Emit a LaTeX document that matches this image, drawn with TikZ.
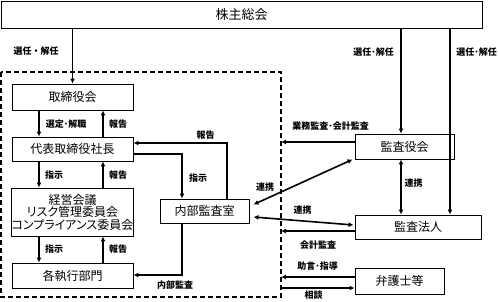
\documentclass[tikz,border=0pt]{standalone}
\usepackage{fontspec}
\setmainfont{Noto Sans CJK JP}[RawFeature=+palt]
\newfontfamily\jp{Noto Sans CJK JP}[RawFeature=+palt]
\newfontfamily\jpl{Noto Sans CJK JP}
\usetikzlibrary{arrows.meta}
\begin{document}
\begin{tikzpicture}[x=1pt,y=-1pt,
  box/.style={draw,line width=0.9pt,inner sep=0pt,font=\jp\fontsize{12}{12.5}\selectfont,align=center},
  lbl/.style={inner sep=0pt,font=\jpl\bfseries\fontsize{9}{9}\selectfont},
  arr/.style={line width=1.6pt,-{Latex[length=5pt,width=5pt]}},
  darr/.style={line width=1.6pt,{Latex[length=5pt,width=5pt]}-{Latex[length=5pt,width=5pt]}}]
\useasboundingbox (0,0) rectangle (498,301);
% boxes
\node[box,minimum width=481pt,minimum height=27pt,font=\jp\fontsize{13}{13}\selectfont] (sh) at (241.5,14.5) {株主総会};
\node[box,minimum width=121pt,minimum height=26pt] (tor) at (72.5,97) {取締役会};
\node[box,minimum width=121pt,minimum height=24pt] (dai) at (72.5,149) {代表取締役社長};
\node[box,minimum width=121pt,minimum height=48pt] (kei) at (72.5,212) {経営会議\\リスク管理委員会\\コンプライアンス委員会};
\node[box,minimum width=121pt,minimum height=25pt] (kaku) at (72.5,275.5) {各執行部門};
\node[box,minimum width=89pt,minimum height=24pt] (nai) at (204.5,211) {内部監査室};
\node[box,minimum width=99pt,minimum height=25pt] (kan) at (404.5,146.5) {監査役会};
\node[box,minimum width=126pt,minimum height=24pt] (hou) at (418,227) {監査法人};
\node[box,minimum width=89pt,minimum height=26pt] (ben) at (399.5,281) {弁護士等};
% dashed boundary
\draw[line width=1.2pt,dash pattern=on 5pt off 3pt] (1,72) rectangle (281,297);
% helper coordinates
\coordinate (c39) at (39,0);
\coordinate (c103) at (103,0);
\coordinate (c401) at (401,0);
\coordinate (c450) at (450,0);
\coordinate (p1) at (182,154);
\coordinate (p2) at (227,143);
\coordinate (p3) at (182,275);
\coordinate (q1) at (281,142);
\coordinate (q2) at (281,231);
\coordinate (q3) at (281,277);
\coordinate (q4) at (281,288);
% connectors
\draw[arr] (sh.south -| tor.north) -- (tor.north);
\draw[arr] (sh.south -| c401) -- (kan.north -| c401);
\draw[arr] (sh.south -| c450) -- (hou.north -| c450);
\draw[arr] (tor.south -| c39) -- (dai.north -| c39);
\draw[arr] (dai.north -| c103) -- (tor.south -| c103);
\draw[arr] (dai.south -| c39) -- (kei.north -| c39);
\draw[arr] (kei.north -| c103) -- (dai.south -| c103);
\draw[arr] (kei.south -| c39) -- (kaku.north -| c39);
\draw[arr] (kaku.north -| c103) -- (kei.south -| c103);
\draw[arr] (dai.east |- p1) -- (p1) -- (nai.north -| p1);
\draw[arr] (nai.north -| p2) -- (p2) -- (dai.east |- p2);
\draw[arr] (nai.south -| p3) -- (p3) -- (kaku.east |- p3);
\draw[arr] (kan.west |- q1) -- (q1);
\draw[darr] ([shift={(4,6)}]nai.north east) -- ([shift={(-2,0)}]kan.south west);
\draw[darr] ([shift={(4,6)}]nai.east) -- ([shift={(-1,-2)}]hou.west);
\draw[darr] (kan.south -| c401) -- (hou.north -| c401);
\draw[arr] (hou.west |- q2) -- (q2);
\draw[arr] (ben.west |- q3) -- (q3);
\draw[arr] (q4) -- (ben.west |- q4);
% labels
\node[lbl] (l1) at (36,51) {選任・解任};
\node[lbl] (l2) at (373.5,52) {選任･解任};
\node[lbl] (l3) at (476.5,52) {選任･解任};
\node[lbl] (l4) at (66,124) {選定･解職};
\node[lbl] (l5) at (118,124) {報告};
\node[lbl] (l6) at (205.5,135) {報告};
\node[lbl] (l7) at (54,175) {指示};
\node[lbl] (l8) at (118,175) {報告};
\node[lbl] (l9) at (198,178) {指示};
\node[lbl] (l10) at (54,249) {指示};
\node[lbl] (l11) at (118,249) {報告};
\node[lbl] (l12) at (175,285) {内部監査};
\node[lbl] (l13) at (330.5,126) {業務監査･会計監査};
\node[lbl] (l14) at (265,187) {連携};
\node[lbl] (l15) at (302.5,210) {連携};
\node[lbl] (l16) at (413.5,183) {連携};
\node[lbl] (l17) at (318,245) {会計監査};
\node[lbl] (l18) at (317.5,266) {助言･指導};
\node[lbl] (l19) at (313.5,295.5) {相談};
\end{tikzpicture}
\end{document}
